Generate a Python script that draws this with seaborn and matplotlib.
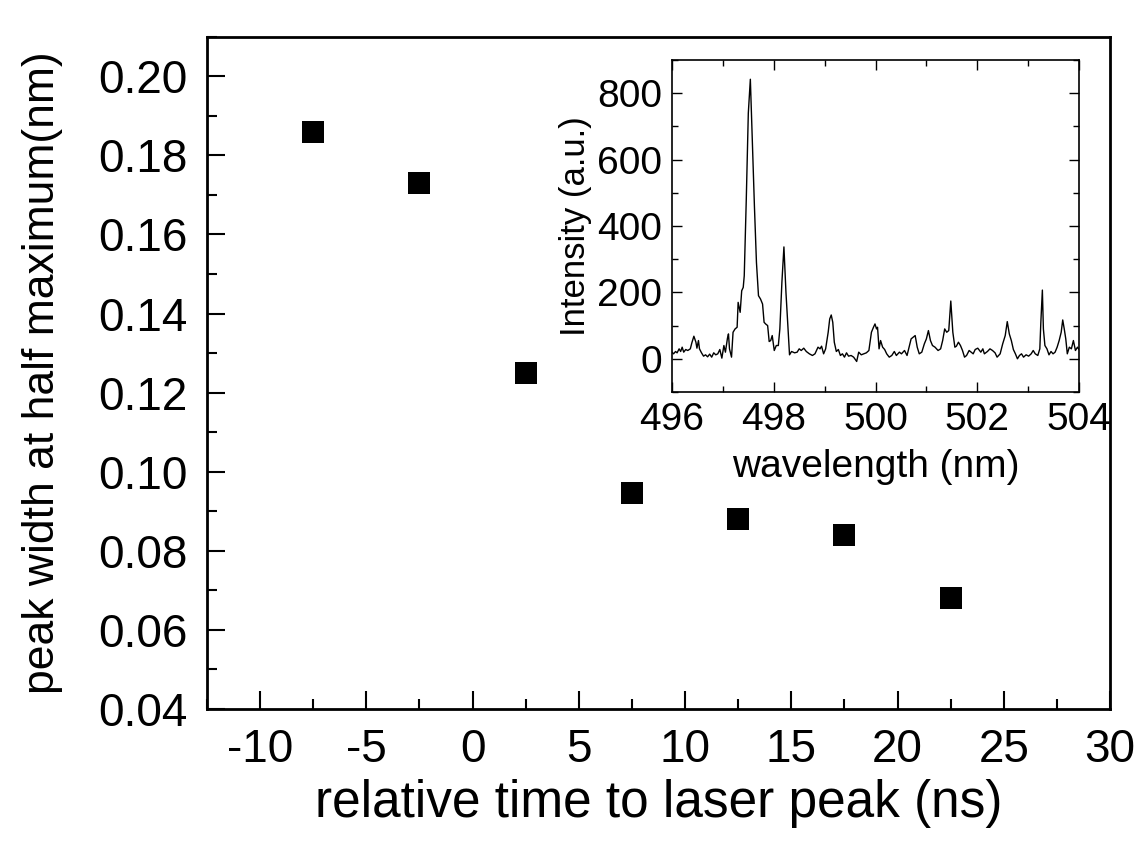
import numpy as np
import pandas as pd
import matplotlib
matplotlib.use("Agg")
import matplotlib.pyplot as plt
from matplotlib.ticker import MultipleLocator
import seaborn as sns

# ---- main data ----
time_ns = [-7.5, -2.5, 2.5, 7.5, 12.5, 17.5, 22.5]
fwhm_nm = [0.186, 0.173, 0.125, 0.0945, 0.088, 0.084, 0.068]

# ---- inset spectrum ----
wavelength = [
    496.00, 496.03, 496.07, 496.10, 496.14, 496.17, 496.20, 496.23, 496.27, 496.31,
    496.36, 496.39, 496.43, 496.47, 496.49, 496.52, 496.54, 496.58, 496.62, 496.66,
    496.70, 496.74, 496.78, 496.82, 496.86, 496.90, 496.94, 496.98, 497.02, 497.05,
    497.09, 497.11, 497.13, 497.17, 497.20, 497.24, 497.28, 497.30, 497.34, 497.37,
    497.40, 497.42, 497.46, 497.50, 497.54, 497.58, 497.62, 497.66, 497.70, 497.74,
    497.78, 497.81, 497.84, 497.88, 497.91, 497.94, 497.97, 498.01, 498.05, 498.09,
    498.12, 498.16, 498.20, 498.24, 498.28, 498.31, 498.35, 498.41, 498.46, 498.50,
    498.54, 498.59, 498.64, 498.70, 498.76, 498.81, 498.87, 498.91, 498.94, 498.98,
    499.02, 499.07, 499.10, 499.13, 499.16, 499.19, 499.23, 499.27, 499.31, 499.35,
    499.39, 499.43, 499.47, 499.52, 499.57, 499.63, 499.67, 499.72, 499.77, 499.82,
    499.87, 499.92, 499.96, 499.99, 500.02, 500.04, 500.07, 500.10, 500.14, 500.18,
    500.22, 500.27, 500.32, 500.37, 500.41, 500.47, 500.51, 500.57, 500.62, 500.66,
    500.70, 500.74, 500.78, 500.82, 500.86, 500.91, 500.96, 501.00, 501.04, 501.08,
    501.12, 501.17, 501.23, 501.28, 501.32, 501.36, 501.40, 501.44, 501.48, 501.52,
    501.56, 501.59, 501.63, 501.67, 501.71, 501.75, 501.79, 501.84, 501.88, 501.92,
    501.96, 502.01, 502.07, 502.11, 502.14, 502.20, 502.25, 502.30, 502.35, 502.39,
    502.45, 502.50, 502.55, 502.59, 502.63, 502.67, 502.71, 502.75, 502.79, 502.83,
    502.87, 502.91, 502.96, 503.01, 503.06, 503.10, 503.14, 503.19, 503.23, 503.25,
    503.28, 503.30, 503.33, 503.37, 503.41, 503.45, 503.49, 503.53, 503.57, 503.61,
    503.65, 503.68, 503.71, 503.74, 503.77, 503.81, 503.85, 503.89, 503.93, 503.97,
    504.00,
]
intensity = [
    20, 15, 22, 18, 30, 22, 35, 20, 28, 25,
    30, 48, 68, 50, 32, 55, 30, 18, 8, 12,
    6, 14, 5, 18, 12, 15, 28, 2, 40, 20,
    62, 75, 30, 5, 80, 90, 95, 170, 140, 205,
    215, 250, 480, 740, 842, 650, 460, 290, 190, 180,
    165, 110, 105, 100, 52, 55, 70, 25, 40, 40,
    90, 230, 337, 200, 90, 12, 22, 18, 20, 30,
    25, 32, 22, 15, 10, 15, 35, 30, 38, 15,
    30, 80, 120, 132, 110, 50, 22, 28, 10, 15,
    5, 18, 8, 10, 5, -8, 20, 12, 15, 18,
    25, 80, 95, 105, 90, 95, 30, 55, 35, 28,
    15, 5, 10, 22, 10, 20, 15, 25, 10, 35,
    60, 65, 70, 35, 15, 20, 45, 60, 85, 55,
    40, 35, 25, 30, 55, 90, 80, 85, 174, 80,
    35, 38, 50, 40, 25, 5, 10, 25, 20, 15,
    28, 32, 20, 30, 15, 22, 30, 25, 18, 5,
    15, 45, 70, 112, 75, 55, 28, 15, 0, 10,
    15, 5, 12, 8, 15, 25, 15, 10, 30, 110,
    207, 90, 40, 30, 12, 22, 15, 20, 35, 55,
    80, 117, 90, 60, 15, 35, 30, 55, 25, 35,
    28,
]

main_xticks = [-10, -5, 0, 5, 10, 15, 20, 25, 30]
main_yticks = [0.04, 0.06, 0.08, 0.10, 0.12, 0.14, 0.16, 0.18, 0.20]
inset_xticks = [496, 498, 500, 502, 504]
inset_yticks = [0, 200, 400, 600, 800]

sns.set_style("ticks")
plt.rcParams["font.family"] = ["Liberation Sans", "DejaVu Sans"]
plt.rcParams["text.color"] = "black"
plt.rcParams["axes.labelcolor"] = "black"
plt.rcParams["xtick.color"] = "black"
plt.rcParams["ytick.color"] = "black"

fig = plt.figure(figsize=(11.41, 8.51), dpi=100)
ax = fig.add_axes([207/1141, 1-709/851, (1110-207)/1141, (709-36.7)/851])

df = pd.DataFrame({"t": time_ns, "w": fwhm_nm})
sns.scatterplot(data=df, x="t", y="w", ax=ax, marker="s", s=260, color="black",
                edgecolor="black", linewidth=0, legend=False)

ax.set_xlim(-12.5, 30)
ax.set_ylim(0.04, 0.21)
ax.set_xticks(main_xticks)
ax.set_xticklabels([str(v) for v in main_xticks])
ax.set_yticks(main_yticks)
ax.set_yticklabels([f"{v:.2f}" for v in main_yticks])
ax.xaxis.set_minor_locator(MultipleLocator(2.5))
ax.yaxis.set_minor_locator(MultipleLocator(0.01))
ax.tick_params(axis="both", which="major", direction="in", length=13, width=1.5,
               labelsize=33, pad=14, colors="black")
ax.tick_params(axis="both", which="minor", direction="in", length=7, width=1.5,
               colors="black")
ax.tick_params(top=False, right=False, which="both")
for sp in ax.spines.values():
    sp.set_visible(True)
    sp.set_linewidth(2)
    sp.set_color("black")
ax.set_xlabel("relative time to laser peak (ns)", fontsize=37, labelpad=5,
              color="black")
ax.set_ylabel("peak width at half maximum(nm)", fontsize=32, labelpad=25,
              color="black")

# ---- inset ----
ax2 = fig.add_axes([672/1141, 1-392/851, (1079-672)/1141, (392-60)/851])
sdf = pd.DataFrame({"wl": wavelength, "I": intensity})
sns.lineplot(data=sdf, x="wl", y="I", ax=ax2, color="black", linewidth=1.0,
             sort=False, estimator=None)
ax2.set_xlim(496, 504)
ax2.set_ylim(-100, 900)
ax2.set_xticks(inset_xticks)
ax2.set_yticks(inset_yticks)
ax2.xaxis.set_minor_locator(MultipleLocator(1))
ax2.yaxis.set_minor_locator(MultipleLocator(100))
ax2.tick_params(axis="both", which="major", direction="in", length=7, width=1,
                labelsize=28, pad=7, top=True, right=True, colors="black")
ax2.tick_params(axis="both", which="minor", direction="in", length=4, width=1,
                top=True, right=True, colors="black")
for sp in ax2.spines.values():
    sp.set_visible(True)
    sp.set_linewidth(1.2)
    sp.set_color("black")
ax2.set_xlabel("wavelength (nm)", fontsize=28, labelpad=8, color="black")
ax2.set_ylabel("Intensity (a.u.)", fontsize=25, labelpad=4, color="black")

fig.savefig("out.png", dpi=100)
